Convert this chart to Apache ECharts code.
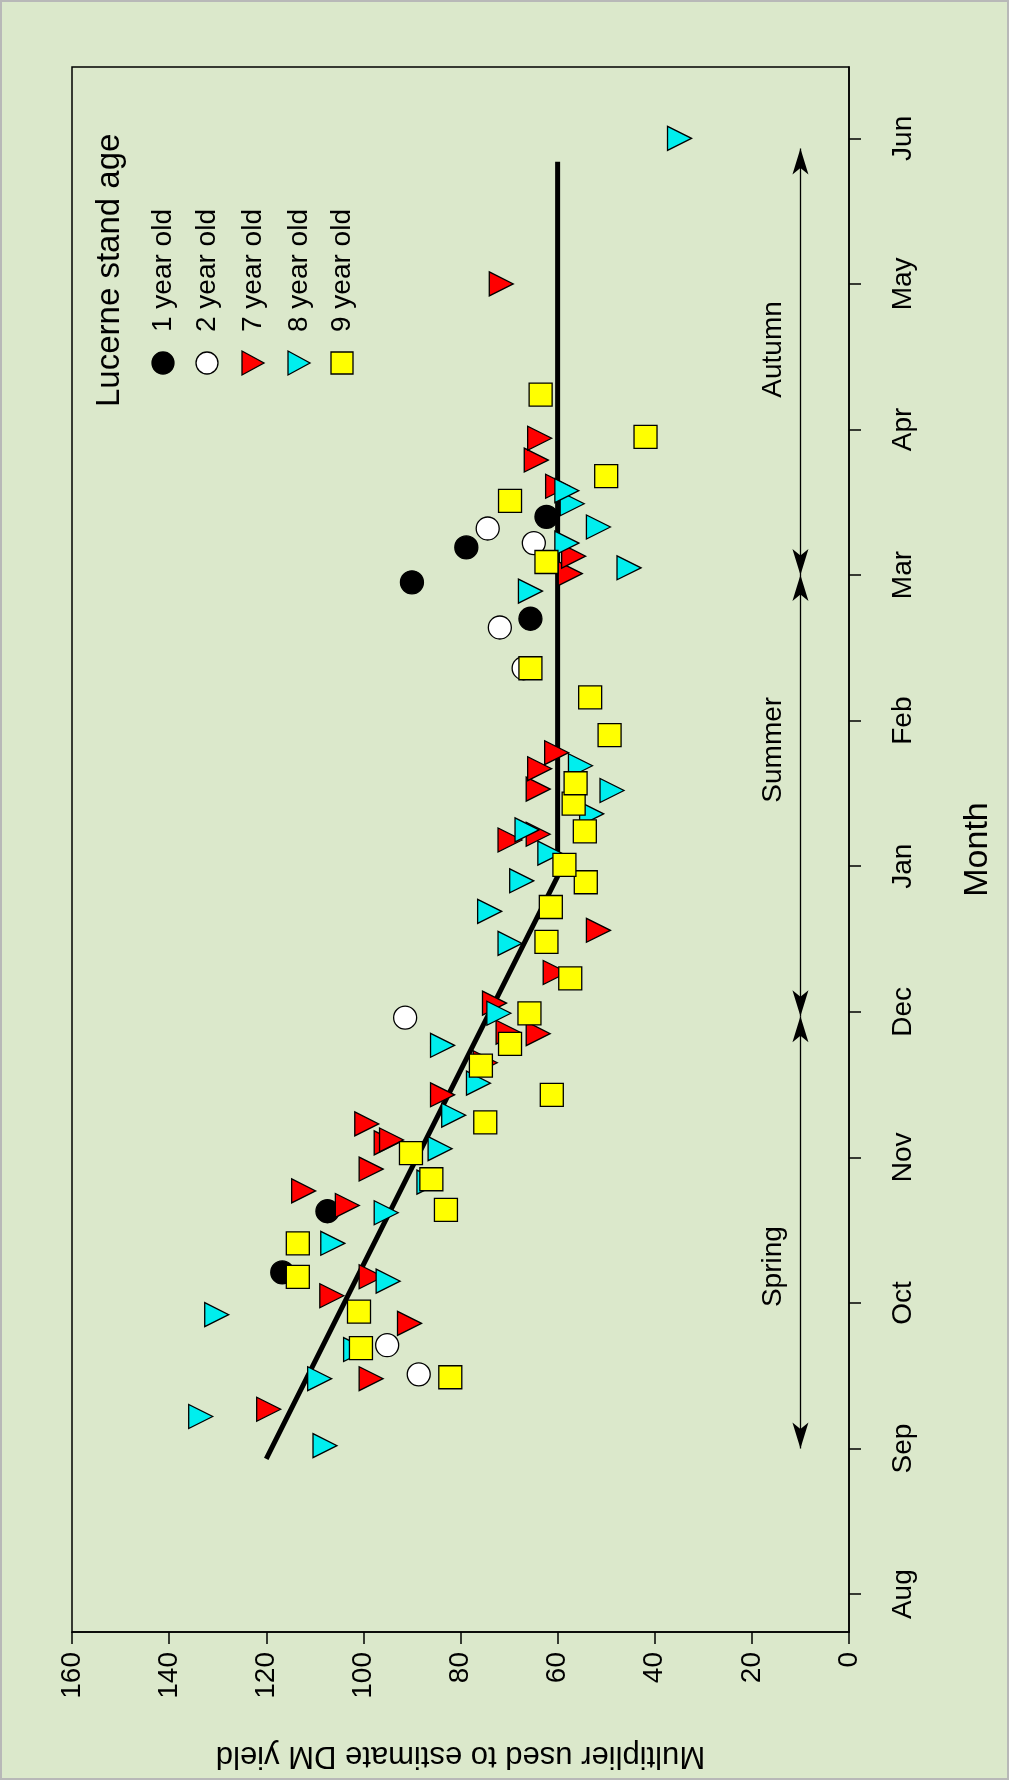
<!DOCTYPE html>
<html>
<head>
<meta charset="utf-8">
<title>Lucerne multiplier</title>
<script src="https://cdn.jsdelivr.net/npm/echarts@6/dist/echarts.min.js"></script>
<style>
html,body{margin:0;padding:0;background:#dbe8cb;}
#main{width:1009px;height:1780px;box-sizing:border-box;border:2px solid #b8b8b8;}
</style>
</head>
<body>
<div id="main"></div>
<script type="text/javascript">
// month index: Aug=0 ... Jun=10
var monthNames = ['Aug','Sep','Oct','Nov','Dec','Jan','Feb','Mar','Apr','May','Jun'];
var monthTicks = [0,1,2,3,4,5,6,7,8,9,10];
var valueTicks = [0,20,40,60,80,100,120,140,160];

// [multiplier, month]
var age1 = [[116.7,2.21],[107.4,2.63],[90,6.95],[78.8,7.19],[65.6,6.70],[62.3,7.40]];
var age2 = [[95.1,1.71],[88.6,1.51],[91.4,3.96],[71.9,6.64],[67,6.36],[74.4,7.32],[64.9,7.22]];
var age7 = [[119.5,1.27],[98.4,1.48],[90.5,1.86],[106.5,2.05],[98.4,2.18],[112.3,2.77],[103.3,2.67],
  [98.4,2.92],[99.3,3.23],[95.3,3.10],[94.2,3.12],[83.7,3.43],[74.9,3.65],[70.2,3.86],[64,3.85],
  [73,4.06],[60.5,4.27],[51.6,4.56],[69.8,5.18],[64,5.22],[64,5.53],[63.7,5.67],[60.2,5.78],
  [57.4,7.01],[56.7,7.13],[60,7.61],[64.4,7.79],[63.7,7.94],[71.6,9.0]];
var age8 = [[133.5,1.22],[107.9,1.02],[109,1.48],[130.2,1.92],[101.6,1.68],[94.9,2.15],[106.3,2.41],
  [95.3,2.62],[86.5,2.83],[84.2,3.06],[81.4,3.29],[76.3,3.51],[83.7,3.77],[72.1,3.99],[69.8,4.47],
  [74,4.69],[67.4,4.90],[61.6,5.09],[66.3,5.25],[53,5.36],[48.8,5.52],[55.3,5.69],[65.6,6.89],
  [45.3,7.05],[58.1,7.22],[51.6,7.33],[57,7.49],[58.1,7.58],[34.9,10.0]];
var age9 = [[82.1,1.49],[100.5,1.69],[100.9,1.94],[113.5,2.18],[113.5,2.41],[83,2.64],[86,2.85],
  [90.2,3.03],[74.9,3.24],[61.2,3.43],[75.8,3.63],[69.8,3.78],[65.8,3.99],[57.4,4.23],[62.3,4.48],
  [61.4,4.72],[54.2,4.89],[58.6,5.01],[54.4,5.24],[56.7,5.43],[56.3,5.57],[49.3,5.90],[53.3,6.16],
  [65.6,6.36],[62.3,7.09],[69.8,7.51],[50,7.68],[41.9,7.95],[63.5,8.24]];
var fitLine = [[120,0.93],[60,4.93],[60,9.84]];

// seasons: name, start month, end month, label month
var seasonNames = ['Spring','Summer','Autumn'];
var seasonStart = [1.0,3.97,7.0];
var seasonEnd = [3.97,7.0,9.93];
var seasonLabelAt = [2.25,5.8,8.55];
var seasonLevel = 10;

var legendNames = ['1 year old','2 year old','7 year old','8 year old','9 year old'];

var txtFont = 'Liberation Sans, Arial, sans-serif';
var myChart = echarts.init(document.getElementById('main'), null, {renderer:'canvas'});

function pointSeries(name, data, symbol, color, rot) {
	return {
		name: name, type: 'scatter', data: data,
		symbol: symbol, symbolSize: symbol == 'triangle' ? 24 : 23, symbolRotate: rot || 0,
		itemStyle: {color: color, borderColor: '#000', borderWidth: 1.3, opacity: 1},
		z: 3
	};
}

var seasonMarks = [], seasonText = [];
for (var i = 0; i < seasonNames.length; i++) {
	seasonMarks.push([{coord:[seasonLevel, seasonStart[i]]},{coord:[seasonLevel, seasonEnd[i]]}]);
	seasonText.push({value:[15.5, seasonLabelAt[i]], name: seasonNames[i]});
}

var option = {
	backgroundColor: '#dbe8cb',
	animation: false,
	grid: {left:70, right:158, top:65, bottom:146, show:true, borderColor:'#000', borderWidth:1.5, backgroundColor:'transparent'},
	xAxis: {
		type:'value', min:0, max:160, inverse:true, position:'bottom',
		splitLine:{show:false},
		axisLine:{show:true, onZero:false, lineStyle:{color:'#000', width:1.5}},
		axisTick:{show:true, length:12, lineStyle:{color:'#000', width:1.5}, customValues: valueTicks},
		axisLabel:{rotate:90, color:'#000', fontSize:28, fontFamily:txtFont, margin:20, customValues: valueTicks},
		name:'Multiplier used to estimate DM yield', nameLocation:'middle', nameRotate:180, nameGap:108,
		nameTextStyle:{color:'#000', fontSize:31, fontFamily:txtFont}
	},
	yAxis: {
		type:'value', min:-0.26, max:10.49, position:'right',
		splitLine:{show:false},
		axisLine:{show:true, onZero:false, lineStyle:{color:'#000', width:1.5}},
		axisTick:{show:true, length:12, lineStyle:{color:'#000', width:1.5}, customValues: monthTicks},
		axisLabel:{rotate:90, color:'#000', fontSize:28, fontFamily:txtFont, margin:40,
			customValues: monthTicks, formatter:function(v){ return monthNames[Math.round(v)]; }},
		name:'Month', nameLocation:'middle', nameRotate:90, nameGap:112,
		nameTextStyle:{color:'#000', fontSize:34, fontFamily:txtFont}
	},
	series: [
		{
			name:'fit', type:'line', data: fitLine, symbol:'none',
			lineStyle:{color:'#000', width:5}, z:2
		},
		{
			name:'seasons', type:'scatter', data: seasonText, symbolSize:0,
			itemStyle:{opacity:1},
			label:{show:true, formatter:'{b}', rotate:90, color:'#000', fontSize:28, fontFamily:txtFont},
			markLine:{
				silent:true, symbol:['arrow','arrow'], symbolSize:[12,26],
				lineStyle:{color:'#000', width:1.3, type:'solid', opacity:1},
				label:{show:false}, data: seasonMarks
			}
		},
		pointSeries(legendNames[0], age1, 'circle', '#000'),
		pointSeries(legendNames[1], age2, 'circle', '#fff'),
		pointSeries(legendNames[2], age7, 'triangle', '#ff0000', -90),
		pointSeries(legendNames[3], age8, 'triangle', '#00eeee', -90),
		pointSeries(legendNames[4], age9, 'rect', '#ffff00')
	],
	graphic: []
};

// legend drawn rotated like the rest of the picture
var legendX = [161, 205, 251, 297, 340];
var legendSym = ['circle','circle','triangle','triangle','rect'];
var legendCol = ['#000','#fff','#ff0000','#00eeee','#ffff00'];
option.graphic.push({
	type:'text', x:108, y:405, rotation:Math.PI/2,
	style:{text:'Lucerne stand age', fill:'#000', fontSize:33, fontFamily:txtFont, textVerticalAlign:'middle'}
});
for (var k = 0; k < legendNames.length; k++) {
	option.graphic.push({
		type:'text', x:legendX[k], y:330, rotation:Math.PI/2,
		style:{text:legendNames[k], fill:'#000', fontSize:28, fontFamily:txtFont, textVerticalAlign:'middle'}
	});
	var shape;
	if (legendSym[k] == 'circle') {
		shape = {type:'circle', shape:{cx:legendX[k], cy:361, r:11}};
	} else if (legendSym[k] == 'rect') {
		shape = {type:'rect', shape:{x:legendX[k]-11, y:350, width:22, height:22}};
	} else {
		shape = {type:'polygon', shape:{points:[[legendX[k]-11,349],[legendX[k]-11,373],[legendX[k]+11,361]]}};
	}
	shape.style = {fill:legendCol[k], stroke:'#000', lineWidth:1.3};
	option.graphic.push(shape);
}

myChart.setOption(option);
</script>
</body>
</html>
